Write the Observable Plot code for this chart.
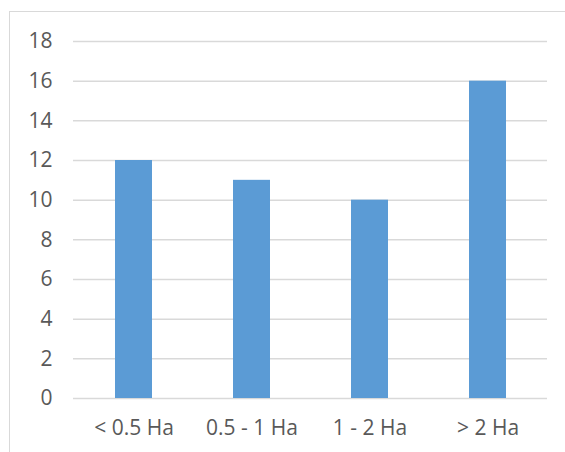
<!DOCTYPE html>
<html>
<head>
<meta charset="utf-8">
<script src="https://cdn.jsdelivr.net/npm/d3@7"></script>
<script src="https://cdn.jsdelivr.net/npm/@observablehq/plot@0.6"></script>
<style>
  html, body { margin: 0; padding: 0; background: #fff; }
  #wrap { position: relative; width: 565px; height: 452px; overflow: hidden; }
  #border { position: absolute; left: 9px; top: 11px; width: 600px; height: 500px; border: 1.5px solid #d9d9d9; box-sizing: border-box; }
  #chart { position: absolute; left: 0; top: 0; }
</style>
</head>
<body>
<div id="wrap"><div id="border"></div><div id="chart"></div></div>
<script>
const categories = ["< 0.5 Ha", "0.5 - 1 Ha", "1 - 2 Ha", "> 2 Ha"];
const values = [12, 11, 10, 16];
const yTicks = [0, 2, 4, 6, 8, 10, 12, 14, 16, 18];

const data = categories.map((c, i) => ({category: c, value: values[i]}));

const chart = Plot.plot({
  width: 565,
  height: 452,
  marginLeft: 73,
  marginRight: 18,
  marginTop: 41,
  marginBottom: 54,
  style: {fontFamily: "'Open Sans', Lato, sans-serif", fontSize: "21px", color: "#595959", background: "transparent"},
  x: {domain: categories, paddingInner: 0.69, paddingOuter: 0.345, label: null},
  y: {domain: [0, 18], label: null},
  marks: [
    Plot.ruleY(yTicks, {stroke: "#d9d9d9", strokeWidth: 1.5}),
    Plot.barY(data, {x: "category", y: "value", fill: "#5B9BD5"}),
    Plot.axisX({tickSize: 0, tickPadding: 22, fill: "#595959", fontSize: 21}),
    Plot.axisY({ticks: yTicks, tickSize: 0, tickPadding: 21, fill: "#595959", fontSize: 21})
  ]
});
document.getElementById("chart").appendChild(chart);
</script>
</body>
</html>
